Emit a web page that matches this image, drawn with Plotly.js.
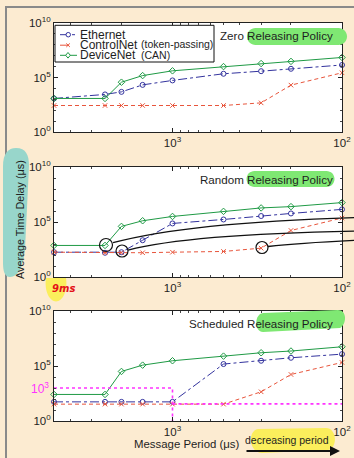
<!DOCTYPE html>
<html><head><meta charset="utf-8">
<script src="https://cdn.plot.ly/plotly-3.0.1.min.js"></script>
<style>html,body{margin:0;padding:0;background:#fcebd1;} #chart{width:354px;height:458px;}</style>
</head><body><div id="chart"></div>
<script>
// ---------- data ----------
const periods = [5000, 2500, 2000, 1500, 1000, 500, 300, 200, 100];
const seriesNames = ['Ethernet', 'ControlNet', 'DeviceNet'];
const seriesNotes = ['', '(token-passing)', '(CAN)'];
const policyNames = ['Zero', 'Random', 'Scheduled'];

const zeroEthernet   = [1.2e3, 2.8e3, 4.8e3, 2.1e4, 5.4e4, 2.2e5, 3.8e5, 6.3e5, 1.4e6];
const zeroControlNet = [270, 270, 270, 270, 270, 270, 470, 2.0e4, 2.7e5];
const zeroDeviceNet  = [1.2e3, 1.2e3, 3.7e4, 1.5e5, 4.1e5, 1.0e6, 1.9e6, 3.0e6, 6.9e6];

const randomEthernet   = [180, 160, 180, 2.2e3, 7.4e4, 1.7e5, 3.5e5, 6.0e5, 1.4e6];
const randomControlNet = [180, 160, 160, 160, 180, 210, 420, 1.7e4, 2.3e5];
const randomDeviceNet  = [740, 740, 4.0e4, 1.3e5, 3.2e5, 9.3e5, 1.9e6, 2.5e6, 5.8e6];

const schedEthernet   = [55, 55, 55, 55, 55, 1.5e5, 3.0e5, 5.6e5, 1.2e6];
const schedControlNet = [34, 34, 34, 34, 34, 34, 450, 1.7e4, 2.1e5];
const schedDeviceNet  = [260, 260, 3.2e4, 1.2e5, 3.0e5, 7.9e5, 1.6e6, 2.3e6, 5.6e6];

// magenta reference lines (scheduled panel)
const refUpperX = [5000, 1000, 1000];
const refUpperY = [1000, 1000, 1];
const refLowerX = [1000, 100];
const refLowerY = [36, 36];

const xTickVals = [1000, 100];
const xTickText = ['10<sup>3</sup>', '10<sup>2</sup>'];
const xMinorVals = [4000, 3000, 2000, 900, 800, 700, 600, 500, 400, 300, 200];
const yTickVals = [1, 1e5, 1e10];
const yTickText = ['10<sup>0</sup>', '10<sup>5</sup>', '10<sup>10</sup>'];
const yMinorVals = [10, 1e2, 1e3, 1e4, 1e6, 1e7, 1e8, 1e9];

// ---------- geometry ----------
const W = 354, H = 458, L = 54, R = 12, T = 23, B = 37;
const PW = W - L - R, PH = H - T - B;
const px = X => (X - L) / PW;
const py = Y => (H - B - Y) / PH;
function pth(segs) {
  return segs.map(s => s[0] + (s.length > 1 ? ' ' + s.slice(1).map(p => px(p[0]).toFixed(4) + ',' + py(p[1]).toFixed(4)).join(' ') : '')).join(' ');
}
function rrect(x0, y0, x1, y1) {
  const r = (y1 - y0) / 2, k = 0.5523 * r, ym = (y0 + y1) / 2;
  return pth([['M', [x0 + r, y0]], ['L', [x1 - r, y0]],
    ['C', [x1 - r + k, y0], [x1, ym - k], [x1, ym]],
    ['C', [x1, ym + k], [x1 - r + k, y1], [x1 - r, y1]],
    ['L', [x0 + r, y1]],
    ['C', [x0 + r - k, y1], [x0, ym + k], [x0, ym]],
    ['C', [x0, ym - k], [x0 + r - k, y0], [x0 + r, y0]], ['Z']]);
}
function circ(cx, cy, r, color, w) {
  return {type: 'circle', xref: 'paper', yref: 'paper', x0: px(cx - r), x1: px(cx + r), y0: py(cy + r), y1: py(cy - r),
    line: {color: color, width: w}, layer: 'above'};
}

const colors = ['#33339e', '#e8553c', '#1f9a45'];
const dashes = ['dashdot', '4px,3px', 'solid'];
const symbols = ['circle-open', 'x-thin-open', 'diamond-open'];
const FONT = 'Liberation Sans, Arial, Helvetica, sans-serif';
const TXT = '#1e1e1e';

const panelData = [
  [zeroEthernet, zeroControlNet, zeroDeviceNet],
  [randomEthernet, randomControlNet, randomDeviceNet],
  [schedEthernet, schedControlNet, schedDeviceNet]
];

const traces = [];
panelData.forEach((set, p) => {
  const xa = p === 0 ? 'x' : 'x' + (p + 1), ya = p === 0 ? 'y' : 'y' + (p + 1);
  set.forEach((vals, i) => {
    traces.push({
      x: periods, y: vals, xaxis: xa, yaxis: ya, type: 'scatter', mode: 'lines+markers',
      name: seriesNames[i], showlegend: false, cliponaxis: false,
      line: {color: colors[i], width: 1, dash: dashes[i]},
      marker: {symbol: symbols[i], size: i === 1 ? 4.5 : 5, color: colors[i], line: {color: colors[i], width: 1}}
    });
  });
});
[[refUpperX, refUpperY], [refLowerX, refLowerY]].forEach(r => {
  traces.push({x: r[0], y: r[1], xaxis: 'x3', yaxis: 'y3', type: 'scatter', mode: 'lines', showlegend: false,
    cliponaxis: false, line: {color: '#ff33ff', width: 1.6, dash: 'dot'}});
});

const domains = [[py(132), py(T)], [py(277), py(167)], [0, py(311)]];
const layout = {
  width: W, height: H, margin: {l: L, r: R, t: T, b: B, pad: 0},
  paper_bgcolor: '#fcebd1', plot_bgcolor: '#ffffff', showlegend: false,
  font: {family: FONT, color: TXT, size: 11},
  shapes: [], annotations: []
};
domains.forEach((d, p) => {
  const sfx = p === 0 ? '' : String(p + 1);
  layout['xaxis' + sfx] = {
    type: 'log', range: [Math.log10(periods[0]), Math.log10(periods[periods.length - 1])], domain: [0, 1],
    anchor: 'y' + sfx, showline: true, mirror: 'ticks', linecolor: '#222', linewidth: 1,
    ticks: 'inside', ticklen: 4, tickcolor: '#222', tickmode: 'array', tickvals: xTickVals, ticktext: xTickText,
    tickfont: {size: 11.5, color: TXT, family: FONT},
    minor: {tickmode: 'array', tickvals: xMinorVals, ticks: 'inside', ticklen: 2, tickcolor: '#444'},
    showgrid: false, zeroline: false, fixedrange: true
  };
  layout['yaxis' + sfx] = {
    type: 'log', range: [0, 10], domain: d, anchor: 'x' + sfx,
    showline: true, mirror: 'ticks', linecolor: '#222', linewidth: 1,
    ticks: 'inside', ticklen: 4, tickcolor: '#222', tickmode: 'array', tickvals: yTickVals, ticktext: yTickText,
    tickfont: {size: 11.5, color: TXT, family: FONT},
    minor: {tickmode: 'array', tickvals: yMinorVals, ticks: 'inside', ticklen: 2, tickcolor: '#444'},
    showgrid: false, zeroline: false, fixedrange: true
  };
});

const S = layout.shapes, A = layout.annotations;
// outer frame
S.push({type: 'line', xref: 'paper', yref: 'paper', x0: px(6), x1: px(356), y0: py(7), y1: py(7), line: {color: '#8a8a8a', width: 2}});
S.push({type: 'line', xref: 'paper', yref: 'paper', x0: px(6), x1: px(6), y0: py(6), y1: py(460), line: {color: '#8a8a8a', width: 2}});
// teal highlight behind y title
S.push({type: 'path', xref: 'paper', yref: 'paper', layer: 'above', fillcolor: '#98d6cb', line: {width: 0},
  path: pth([['M', [16, 148]], ['C', [26, 148], [29, 155], [29, 166]], ['L', [25, 250]],
    ['C', [23, 268], [18, 277], [10, 277]], ['C', [4, 277], [3, 270], [3, 262]], ['L', [3, 166]],
    ['C', [3, 154], [8, 148], [16, 148]], ['Z']])});
// green highlights
S.push({type: 'path', xref: 'paper', yref: 'paper', layer: 'above', fillcolor: '#7fe873', line: {width: 0}, path: rrect(247, 28, 347, 45)});
S.push({type: 'path', xref: 'paper', yref: 'paper', layer: 'above', fillcolor: '#7fe873', line: {width: 0}, path: rrect(246.5, 171, 334.5, 187)});
S.push({type: 'path', xref: 'paper', yref: 'paper', layer: 'above', fillcolor: '#7fe873', line: {width: 0},
  path: pth([['M', [263, 313]], ['L', [338, 310]], ['C', [347, 310], [347, 324], [340, 328]], ['L', [263, 332]],
    ['C', [254, 332], [254, 314], [263, 313]], ['Z']])});
// yellow highlights
S.push({type: 'path', xref: 'paper', yref: 'paper', layer: 'above', fillcolor: '#fbee5c', line: {width: 0},
  path: pth([['M', [46, 278]], ['L', [66, 278]], ['C', [68, 292], [62, 301.5], [56, 301.5]], ['C', [50, 301.5], [44, 292], [46, 278]], ['Z']])});
S.push({type: 'path', xref: 'paper', yref: 'paper', layer: 'above', fillcolor: '#fbee5c', line: {width: 0},
  path: pth([['M', [258, 429]], ['L', [326, 428]], ['C', [337, 428], [338, 448], [328, 450]], ['L', [262, 453]],
    ['C', [249, 453], [247, 431], [258, 429]], ['Z']])});
// panel 2 callouts
S.push(circ(106, 245, 6.5, '#111', 1.2));
S.push(circ(122, 251, 6, '#111', 1.2));
S.push(circ(262, 247.5, 6, '#111', 1.2));
[[[113, 242.7], [160, 230], [240, 221], [356, 217.5]],
 [[128, 250], [170, 239], [250, 233], [356, 231]],
 [[268, 246.5], [290, 244], [320, 242], [356, 240.3]]].forEach(c => {
  S.push({type: 'path', xref: 'paper', yref: 'paper', layer: 'above', line: {color: '#111', width: 1.3},
    path: pth([['M', c[0]], ['C', c[1], c[2], c[3]]])});
});
// legend box
S.push({type: 'rect', xref: 'paper', yref: 'paper', layer: 'above', x0: px(55), x1: px(214), y0: py(62), y1: py(25.3),
  fillcolor: '#ffffff', line: {color: '#111', width: 1}});
const rowsY = [34.7, 45.2, 55.3];
rowsY.forEach((ry, i) => {
  S.push({type: 'line', xref: 'paper', yref: 'paper', layer: 'above', x0: px(60), x1: px(77), y0: py(ry), y1: py(ry),
    line: {color: colors[i], width: 1, dash: i === 0 ? 'dashdot' : (i === 1 ? 'dash' : 'solid')}});
  A.push({xref: 'paper', yref: 'paper', x: px(78.5), y: py(ry), xanchor: 'left', yanchor: 'middle', showarrow: false,
    text: seriesNames[i], font: {size: 12, color: TXT, family: FONT}, borderpad: 0});
  if (seriesNotes[i]) A.push({xref: 'paper', yref: 'paper', x: px(140), y: py(ry - 0.8), xanchor: 'left', yanchor: 'middle', showarrow: false,
    text: seriesNotes[i], font: {size: 10.5, color: TXT, family: FONT}, borderpad: 0});
});
// legend markers
S.push({type: 'circle', xref: 'paper', yref: 'paper', layer: 'above', x0: px(66), x1: px(70.5), y0: py(rowsY[0] + 2.25), y1: py(rowsY[0] - 2.25),
  fillcolor: '#ffffff', line: {color: colors[0], width: 1}});
S.push({type: 'path', xref: 'paper', yref: 'paper', layer: 'above', line: {color: colors[1], width: 1},
  path: pth([['M', [66.3, rowsY[1] - 1.8]], ['L', [69.9, rowsY[1] + 1.8]], ['M', [69.9, rowsY[1] - 1.8]], ['L', [66.3, rowsY[1] + 1.8]]])});
S.push({type: 'path', xref: 'paper', yref: 'paper', layer: 'above', fillcolor: '#ffffff', line: {color: colors[2], width: 1},
  path: pth([['M', [68, rowsY[2] - 2.8]], ['L', [70.3, rowsY[2]]], ['L', [68, rowsY[2] + 2.8]], ['L', [65.7, rowsY[2]]], ['Z']])});

// panel titles
const titleY = [36, 179.5, 323.5];
policyNames.forEach((nm, p) => {
  A.push({xref: 'paper', yref: 'paper', x: px(335), y: py(titleY[p]), xanchor: 'right', yanchor: 'middle', showarrow: false,
    text: nm + ' Releasing Policy', font: {size: 11.6, color: TXT, family: FONT}});
});
// axis titles
A.push({xref: 'paper', yref: 'paper', x: px(187), y: py(444), xanchor: 'center', yanchor: 'middle', showarrow: false,
  text: 'Message Period (\u03bcs)', font: {size: 11.4, color: TXT, family: FONT}});
A.push({xref: 'paper', yref: 'paper', x: px(20), y: py(220), xanchor: 'center', yanchor: 'middle', showarrow: false, textangle: -90,
  text: 'Average Time Delay (\u03bcs)', font: {size: 10.8, color: TXT, family: FONT}});
// magenta 10^3 label
A.push({xref: 'paper', yref: 'y3', x: px(51), y: 3, xanchor: 'right', yanchor: 'middle', showarrow: false,
  text: '10<sup>3</sup>', font: {size: 12, color: '#ff33ff', family: FONT}});
// 9ms note
A.push({xref: 'paper', yref: 'paper', x: px(63), y: py(288), xanchor: 'center', yanchor: 'middle', showarrow: false,
  text: '<b><i>9ms</i></b>', font: {size: 10, color: '#e41018', family: 'DejaVu Sans, sans-serif'}});
// decreasing period
A.push({xref: 'paper', yref: 'paper', x: px(287), y: py(440), xanchor: 'center', yanchor: 'middle', showarrow: false,
  text: 'decreasing period', font: {size: 10.5, color: TXT, family: FONT}});
A.push({xref: 'paper', yref: 'paper', x: px(340), y: py(451), ax: -95, ay: 0, text: '', showarrow: true,
  arrowhead: 2, arrowsize: 1, arrowwidth: 2, arrowcolor: '#111'});

Plotly.newPlot('chart', traces, layout, {displayModeBar: false, staticPlot: true});
</script></body></html>
